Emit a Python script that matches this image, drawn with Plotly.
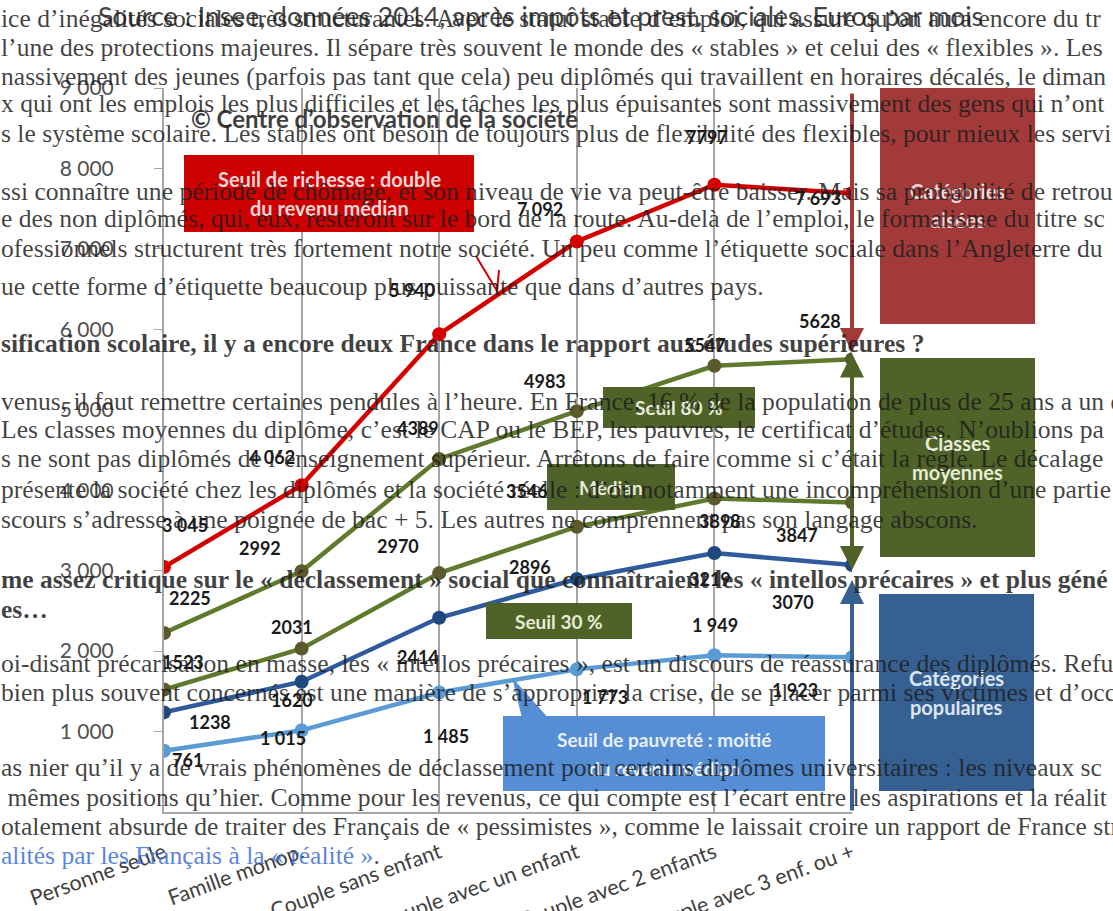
import plotly.graph_objects as go

W, H = 1113, 911

# ---- data -------------------------------------------------------------
categories = ["Personne seule", "Famille monop.", "Couple sans enfant",
              "Couple avec un enfant", "Couple avec 2 enfants", "Couple avec 3 enf. ou +"]

richesse = [3045, 4062, 5940, 7092, 7797, 7693]
seuil_80 = [2225, 2992, 4389, 4983, 5547, 5628]
median = [1523, 2031, 2970, 3546, 3898, 3847]
seuil_30 = [1238, 1620, 2414, 2896, 3219, 3070]
pauvrete = [761, 1015, 1485, 1773, 1949, 1923]

richesse_labels = ["3 045", "4 062", "5 940", "7 092", "7797", "7 693"]
seuil_80_labels = ["2225", "2992", "4389", "4983", "5547", "5628"]
median_labels = ["1523", "2031", "2970", "3546", "3898", "3847"]
seuil_30_labels = ["1238", "1620", "2414", "2896", "3219", "3070"]
pauvrete_labels = ["761", "1 015", "1 485", "1 773", "1 949", "1 923"]

y_tickvals = [1000, 2000, 3000, 4000, 5000, 6000, 7000, 8000, 9000]
y_ticktext = ["1 000", "2 000", "3 000", "4 000", "5 000", "6 000", "7 000", "8 000", "9 000"]

title = "Source : Insee, données 2014, après impôts et prest. sociales. Euros par mois"
credit = "© Centre d’observation de la société"

# article text laid over the picture
article_lines = [
    "ice d’inégalités sociales très structurantes. Avec le statut stable d’emploi, qui assure qu’on aura encore du tr",
    "l’une des protections majeures. Il sépare très souvent le monde des « stables » et celui des « flexibles ». Les",
    "nassivement des jeunes (parfois pas tant que cela) peu diplômés qui travaillent en horaires décalés, le diman",
    "x qui ont les emplois les plus difficiles et les tâches les plus épuisantes sont massivement des gens qui n’ont",
    "s le système scolaire. Les stables ont besoin de toujours plus de flexibilité des flexibles, pour mieux les servi",
    "ssi connaître une période de chômage, et son niveau de vie va peut-être baisser. Mais sa probabilité de retrou",
    "e des non diplômés, qui, eux, resteront sur le bord de la route. Au-delà de l’emploi, le formalisme du titre sc",
    "ofessionnels structurent très fortement notre société. Un peu comme l’étiquette sociale dans l’Angleterre du",
    "ue cette forme d’étiquette beaucoup plus puissante que dans d’autres pays.",
    "<b>sification scolaire, il y a encore deux France dans le rapport aux études supérieures ?</b>",
    "venus, il faut remettre certaines pendules à l’heure. En France, 16 % de la population de plus de 25 ans a un d",
    "Les classes moyennes du diplôme, c’est le CAP ou le BEP, les pauvres, le certificat d’études. N’oublions pa",
    "s ne sont pas diplômés de l’enseignement supérieur. Arrêtons de faire comme si c’était la règle. Le décalage",
    "présente la société chez les diplômés et la société réelle : d’où notamment une incompréhension d’une partie",
    "scours s’adresse à une poignée de bac + 5. Les autres ne comprennent pas son langage abscons.",
    "<b>me assez critique sur le « déclassement » social que connaîtraient les « intellos précaires » et plus géné</b>",
    "<b>es…</b>",
    "oi-disant précarisation en masse, les « intellos précaires », est un discours de réassurance des diplômés. Refu",
    "bien plus souvent concernés est une manière de s’approprier la crise, de se placer parmi ses victimes et d’occ",
    "as nier qu’il y a de vrais phénomènes de déclassement pour certains diplômes universitaires : les niveaux sc",
    " mêmes positions qu’hier. Comme pour les revenus, ce qui compte est l’écart entre les aspirations et la réalit",
    "otalement absurde de traiter des Français de « pessimistes », comme le laissait croire un rapport de France str",
    "<span style='color:#3b6fd6'>alités par les Français à la « réalité »</span>.",
]
article_y = [18, 47, 76, 104, 133, 191, 219, 249, 286, 343, 401, 430, 459, 489, 519,
             579, 609, 663, 692, 767, 797, 826, 855]


def px(x):
    return x / W


def py(y):
    return 1 - y / H


series = [
    dict(y=pauvrete, labels=pauvrete_labels, line="#5b9bd5", marker="#5b9bd5",
         off=[(24, 9), (-19, 8), (7, 43), (28, 28), (1, -30), (-57, 33)]),
    dict(y=seuil_30, labels=seuil_30_labels, line="#2f5b9c", marker="#1f497d",
         off=[(46, 10), (-10, 18), (-21, 39), (-47, -12), (-4, 26), (-59, 37)]),
    dict(y=median, labels=median_labels, line="#5f7a2c", marker="#5c5a2c",
         off=[(19, -27), (-10, -22), (-41, -27), (-50, -36), (6, 23), (-55, 32)]),
    dict(y=seuil_80, labels=seuil_80_labels, line="#5f7a2c", marker="#5c5a2c",
         off=[(26, -35), (-42, -23), (-21, -31), (-32, -30), (-9, -21), (-32, -38)]),
    dict(y=richesse, labels=richesse_labels, line="#d40000", marker="#d40000",
         off=[(21, -42), (-30, -28), (-27, -44), (-37, -32), (-7, -48), (-34, 5)]),
]

fig = go.Figure()
annotations = []
for s in series:
    fig.add_trace(go.Scatter(
        x=categories, y=s["y"], mode="lines+markers",
        line=dict(color=s["line"], width=4.5),
        marker=dict(color=s["marker"], size=14),
        showlegend=False, hoverinfo="skip",
    ))
    for c, v, lab, (dx, dy) in zip(categories, s["y"], s["labels"], s["off"]):
        annotations.append(dict(
            x=c, y=v, xref="x", yref="y", text="<b>%s</b>" % lab, showarrow=False,
            xanchor="center", yanchor="middle",
            xshift=dx, yshift=-dy, font=dict(family="Lato", size=18, color="#1a1a1a"),
        ))

# coloured boxes
shapes = []
boxes = [
    # x0, y0, x1, y1, colour, text, text colour, font size
    (184, 155, 474, 232, "#cc0000", "Seuil de richesse : double<br>du revenu médian", "#f6d6d6", 20),
    (880, 88, 1035, 324, "#a33a3a", "Catégories<br>aisées", "#f0d8d8", 20),
    (603, 387, 755, 428, "#4f6228", "Seuil 80 %", "#e6ecd6", 19),
    (547, 464, 675, 510, "#4f6228", "Médian", "#e6ecd6", 19),
    (486, 603, 632, 639, "#4f6228", "Seuil 30 %", "#e6ecd6", 19),
    (880, 358, 1035, 557, "#4f6228", "Classes<br>moyennes", "#e6ecd6", 20),
    (879, 594, 1034, 791, "#376092", "Catégories<br>populaires", "#dce6f2", 20),
    (503, 716, 825, 791, "#558ed5", "Seuil de pauvreté : moitié<br>du revenu médian", "#e8f0fb", 19),
]
for x0, y0, x1, y1, col, txt, tcol, fs in boxes:
    shapes.append(dict(type="rect", xref="paper", yref="paper",
                       x0=px(x0), x1=px(x1), y0=py(y1), y1=py(y0),
                       fillcolor=col, line=dict(width=0), layer="above"))
    parts = txt.split("<br>")
    for i, part in enumerate(parts):
        yc = (y0 + y1) / 2 + (i - (len(parts) - 1) / 2) * 29
        annotations.append(dict(x=px((x0 + x1) / 2), y=py(yc), xref="paper", yref="paper",
                                xanchor="center", yanchor="middle",
                                text="<b>%s</b>" % part, showarrow=False,
                                font=dict(family="Lato", size=fs, color=tcol)))

# callout pointers
shapes.append(dict(type="path", xref="paper", yref="paper",
                   path="M %f,%f L %f,%f L %f,%f" % (px(476), py(256), px(497), py(291), px(499), py(270)),
                   line=dict(color="#cc0000", width=2), layer="above"))
shapes.append(dict(type="path", xref="paper", yref="paper",
                   path="M %f,%f L %f,%f L %f,%f Z" % (px(522), py(716), px(513), py(679), px(546), py(716)),
                   fillcolor="#558ed5", line=dict(color="#558ed5", width=1), layer="above"))

# vertical arrows next to the last category
arrows = [
    # head y, tail y, colour, both ends
    (352, 92, "#a33a3a", False),
    (570, 352, "#4f6228", True),
    (580, 812, "#376092", False),
]
for hy, ty, col, both in arrows:
    annotations.append(dict(x=px(852), y=py(hy), xref="paper", yref="paper", text="",
                            showarrow=True, ax=0, ay=ty - hy, axref="pixel", ayref="pixel",
                            arrowhead=2, startarrowhead=2, arrowside="end+start" if both else "end",
                            arrowsize=1.2, startarrowsize=1.2,
                            arrowwidth=4, arrowcolor=col, standoff=0, startstandoff=0))

# titles
annotations.append(dict(x=px(540), y=py(16), xref="paper", yref="paper", text=title,
                        xanchor="center", yanchor="middle",
                        showarrow=False, font=dict(family="Lato", size=26.5, color="#444444")))
annotations.append(dict(x=px(384), y=py(118), xref="paper", yref="paper", text="<b>%s</b>" % credit,
                        xanchor="center", yanchor="middle",
                        showarrow=False, font=dict(family="Lato", size=24, color="#404040")))

# article text on top
for line, yy in zip(article_lines, article_y):
    annotations.append(dict(x=0, y=py(yy), xref="paper", yref="paper", xanchor="left",
                            yanchor="middle", text=line, showarrow=False, borderpad=0,
                            font=dict(family="Liberation Serif", size=25.6, color="rgba(30,30,30,0.85)")))

fig.update_layout(
    width=W, height=H,
    margin=dict(l=0, r=0, t=0, b=0, autoexpand=False),
    paper_bgcolor="white", plot_bgcolor="white",
    xaxis=dict(domain=[px(164), px(852)], range=[0, 5], showgrid=True, gridcolor="#a6a6a6",
               gridwidth=2, showline=True, linecolor="#a6a6a6", linewidth=2, ticks="",
               tickangle=-20, ticklabelstandoff=18,
               tickfont=dict(family="Lato", size=21.5, color="#404040"),
               zeroline=False, automargin=False),
    yaxis=dict(domain=[py(812), py(88)], range=[0, 9000], showgrid=False, showline=True,
               linecolor="#a6a6a6", linewidth=2, ticks="outside", ticklen=8,
               tickcolor="#a6a6a6", tickvals=y_tickvals, ticktext=y_ticktext,
               ticklabelstandoff=36,
               tickfont=dict(family="Lato", size=21, color="#505050"), zeroline=False,
               automargin=False),
    shapes=shapes,
    annotations=annotations,
)

fig.write_html("out.html", config={"displayModeBar": False},
               post_script="document.body.style.margin='0';document.body.style.overflow='hidden';")
